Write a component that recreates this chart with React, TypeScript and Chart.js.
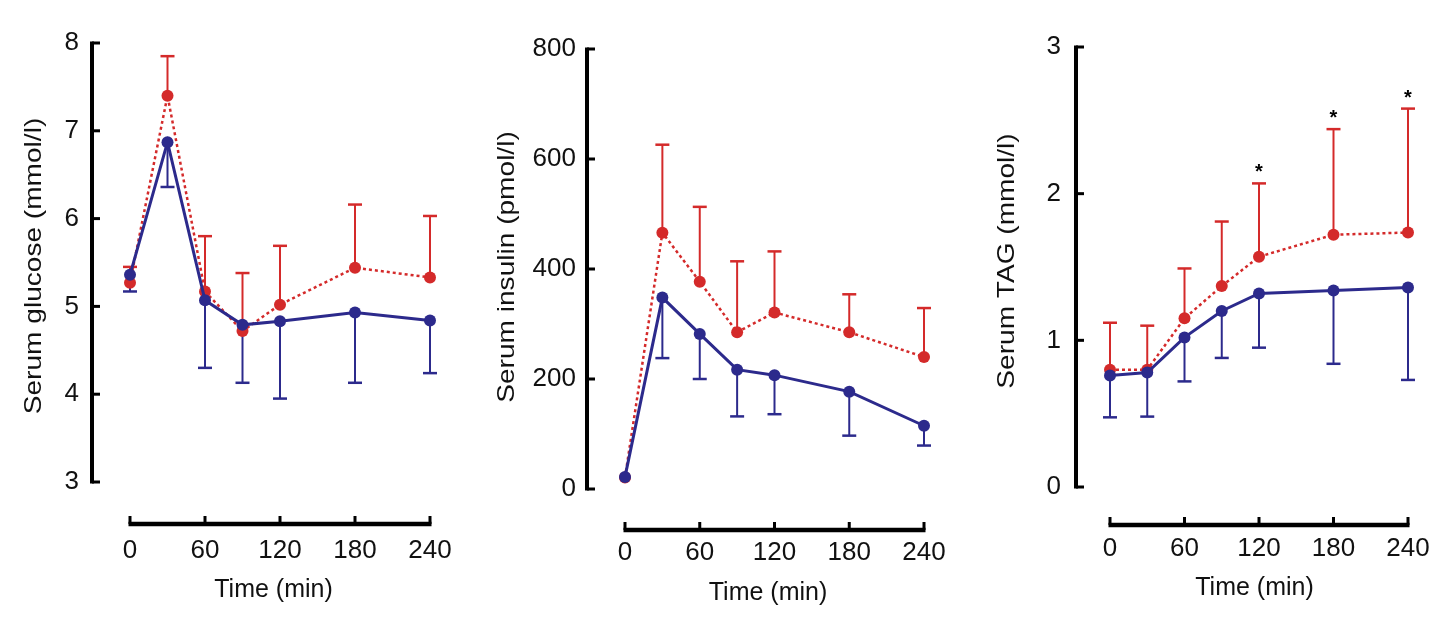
import React, { useEffect, useRef } from 'react';
import { Chart, registerables } from 'chart.js';

Chart.register(...registerables);

// sampling times (min)
const times = [0, 30, 60, 90, 120, 180, 240];
const timeTicks = [0, 60, 120, 180, 240];

// serum glucose (mmol/l)
const glucoseRed = [5.27, 7.4, 5.17, 4.72, 5.02, 5.44, 5.33];
const glucoseRedSd = [0.18, 0.45, 0.63, 0.66, 0.67, 0.72, 0.7];
const glucoseBlue = [5.36, 6.87, 5.07, 4.79, 4.83, 4.93, 4.84];
const glucoseBlueSd = [0.19, 0.51, 0.77, 0.66, 0.88, 0.8, 0.6];

// serum insulin (pmol/l)
const insulinRed = [21, 466, 377, 285, 321, 285, 240];
const insulinRedSd = [0, 160, 136, 129, 111, 69, 89];
const insulinBlue = [22, 348, 282, 217, 207, 177, 115];
const insulinBlueSd = [0, 110, 82, 85, 71, 80, 36];

// serum TAG (mmol/l)
const tagRed = [0.8, 0.8, 1.15, 1.37, 1.57, 1.72, 1.735];
const tagRedSd = [0.32, 0.3, 0.34, 0.44, 0.5, 0.72, 0.845];
const tagBlue = [0.76, 0.78, 1.02, 1.2, 1.32, 1.34, 1.36];
const tagBlueSd = [0.285, 0.3, 0.3, 0.32, 0.37, 0.5, 0.63];
const tagStars = ['', '', '', '', '*', '*', '*'];

const RED = '#d42a2a';
const BLUE = '#2c2a8c';
const FONT = "'Liberation Sans', Arial, sans-serif";
const H = 635;
const TICK_SIZE = 26;
const XTITLE_SIZE = 25;

type Panel = {
  left: number;
  width: number;
  axisX: number;
  top: number;
  bottom: number;
  x0: number;
  x240: number;
  lineGap: number;
  tickLabelY: number;
  titleY: number;
  yTitleX: number;
  yTitleY: number;
  labelPad: number;
  yMin: number;
  yMax: number;
  yStep: number;
  yTitle: string;
  red: number[];
  redSd: number[];
  blue: number[];
  blueSd: number[];
  stars?: string[];
};

const panels: Panel[] = [
  {
    left: 0, width: 470, axisX: 92, top: 43, bottom: 482, x0: 130, x240: 430,
    lineGap: 42, tickLabelY: 551, titleY: 590, yTitleX: 34, yTitleY: 266, labelPad: 13,
    yMin: 3, yMax: 8, yStep: 1, yTitle: 'Serum glucose (mmol/l)',
    red: glucoseRed, redSd: glucoseRedSd, blue: glucoseBlue, blueSd: glucoseBlueSd,
  },
  {
    left: 470, width: 490, axisX: 587, top: 49, bottom: 489, x0: 625, x240: 924,
    lineGap: 41, tickLabelY: 553, titleY: 593, yTitleX: 507, yTitleY: 267, labelPad: 11,
    yMin: 0, yMax: 800, yStep: 200, yTitle: 'Serum insulin (pmol/l)',
    red: insulinRed, redSd: insulinRedSd, blue: insulinBlue, blueSd: insulinBlueSd,
  },
  {
    left: 960, width: 496, axisX: 1076, top: 47, bottom: 487, x0: 1110, x240: 1408,
    lineGap: 38, tickLabelY: 549, titleY: 588, yTitleX: 1007, yTitleY: 261, labelPad: 15,
    yMin: 0, yMax: 3, yStep: 1, yTitle: 'Serum TAG (mmol/l)',
    red: tagRed, redSd: tagRedSd, blue: tagBlue, blueSd: tagBlueSd, stars: tagStars,
  },
];

function decorPlugin(p: Panel) {
  return {
    id: 'decor',
    beforeDatasetsDraw(chart: any) {
      const { ctx, chartArea } = chart;
      const x = chart.scales.x;
      const y = chart.scales.y;
      ctx.save();
      // detached axes
      ctx.strokeStyle = '#000';
      ctx.lineCap = 'butt';
      const ax = chartArea.left;
      const yTop = y.getPixelForValue(p.yMax);
      const yBot = y.getPixelForValue(p.yMin);
      ctx.lineWidth = 4;
      ctx.beginPath();
      ctx.moveTo(ax, yTop - 1.5);
      ctx.lineTo(ax, yBot + 1.5);
      ctx.stroke();
      ctx.lineWidth = 3;
      y.ticks.forEach((t: any) => {
        const py = y.getPixelForValue(t.value);
        ctx.beginPath();
        ctx.moveTo(ax, py);
        ctx.lineTo(ax + 8, py);
        ctx.stroke();
      });
      const ly = chartArea.bottom + p.lineGap;
      ctx.lineWidth = 4.5;
      ctx.beginPath();
      ctx.moveTo(x.getPixelForValue(0) - 1.5, ly);
      ctx.lineTo(x.getPixelForValue(240) + 1.5, ly);
      ctx.stroke();
      ctx.lineWidth = 3;
      timeTicks.forEach((t) => {
        const px = x.getPixelForValue(t);
        ctx.beginPath();
        ctx.moveTo(px, ly);
        ctx.lineTo(px, ly - 8);
        ctx.stroke();
      });
      // error bars: red upward, blue downward
      const bars = [
        { vals: p.red, err: p.redSd, dir: 1, color: RED },
        { vals: p.blue, err: p.blueSd, dir: -1, color: BLUE },
      ];
      bars.forEach((b) => {
        ctx.strokeStyle = b.color;
        times.forEach((t, i) => {
          if (!b.err[i]) return;
          const px = x.getPixelForValue(t);
          const y0 = y.getPixelForValue(b.vals[i]);
          const y1 = y.getPixelForValue(b.vals[i] + b.dir * b.err[i]);
          ctx.lineWidth = 2;
          ctx.beginPath();
          ctx.moveTo(px, y0);
          ctx.lineTo(px, y1);
          ctx.stroke();
          ctx.lineWidth = 2.5;
          ctx.beginPath();
          ctx.moveTo(px - 7, y1);
          ctx.lineTo(px + 7, y1);
          ctx.stroke();
        });
      });
      ctx.restore();
    },
    afterDatasetsDraw(chart: any) {
      const { ctx } = chart;
      const x = chart.scales.x;
      const y = chart.scales.y;
      ctx.save();
      ctx.fillStyle = '#111';
      // y title: the original lettering is a little elongated along the axis
      ctx.font = `24px ${FONT}`;
      ctx.textAlign = 'center';
      ctx.textBaseline = 'middle';
      ctx.save();
      ctx.translate(p.yTitleX - p.left, p.yTitleY);
      ctx.rotate(-Math.PI / 2);
      ctx.scale(1.17, 1);
      ctx.fillText(p.yTitle, 0, 0);
      ctx.restore();
      if (p.stars) {
        ctx.fillStyle = '#000';
        ctx.font = `bold 20px ${FONT}`;
        ctx.textBaseline = 'alphabetic';
        p.stars.forEach((s, i) => {
          if (!s) return;
          const px = x.getPixelForValue(times[i]);
          const py = y.getPixelForValue(p.red[i] + p.redSd[i]);
          ctx.fillText(s, px, py - 5);
        });
      }
      ctx.restore();
    },
  };
}

function PanelChart({ p }: { p: Panel }) {
  const canvasRef = useRef<HTMLCanvasElement>(null);

  useEffect(() => {
    const canvas = canvasRef.current;
    if (!canvas) return;
    const pxPerMin = (p.x240 - p.x0) / 240;
    const chartRight = p.x240 + 25;
    const xMin = (p.axisX - p.x0) / pxPerMin;
    const xMax = (chartRight - p.x0) / pxPerMin;
    const tickFont = { family: FONT, size: TICK_SIZE };
    const chart = new Chart(canvas, {
      type: 'line',
      data: {
        datasets: [
          {
            data: times.map((t, i) => ({ x: t, y: p.blue[i] })),
            borderColor: BLUE,
            backgroundColor: BLUE,
            borderWidth: 3,
            pointRadius: 6,
            pointBorderWidth: 0,
            tension: 0,
            clip: false,
          },
          {
            data: times.map((t, i) => ({ x: t, y: p.red[i] })),
            borderColor: RED,
            backgroundColor: RED,
            borderWidth: 2.5,
            borderDash: [3, 3],
            pointRadius: 6,
            pointBorderWidth: 0,
            tension: 0,
            clip: false,
          },
        ],
      },
      options: {
        animation: false,
        responsive: true,
        maintainAspectRatio: false,
        layout: {
          padding: { left: 0, top: p.top, right: p.left + p.width - chartRight, bottom: 0 },
        },
        plugins: {
          legend: { display: false },
          tooltip: { enabled: false },
        },
        scales: {
          x: {
            type: 'linear',
            min: xMin,
            max: xMax,
            // invisible tick marks push the labels down without widening the padding
            grid: { display: false, drawTicks: true, tickLength: p.tickLabelY - p.bottom - TICK_SIZE * 0.6 },
            border: { display: false },
            afterBuildTicks: (s: any) => {
              s.ticks = timeTicks.map((v) => ({ value: v }));
            },
            afterFit: (s: any) => {
              s.height = H - p.bottom;
            },
            ticks: {
              padding: 0,
              font: tickFont,
              color: '#111',
              maxRotation: 0,
            },
            title: {
              display: true,
              text: 'Time (min)',
              font: { family: FONT, size: XTITLE_SIZE },
              color: '#111',
              padding: { top: 0, bottom: H - p.titleY - XTITLE_SIZE * 0.6 },
            },
          },
          y: {
            min: p.yMin,
            max: p.yMax,
            grid: { display: false, drawTicks: false },
            border: { display: false },
            afterFit: (s: any) => {
              s.width = p.axisX - p.left;
            },
            ticks: {
              stepSize: p.yStep,
              padding: p.labelPad,
              font: tickFont,
              color: '#111',
            },
            title: { display: false },
          },
        },
      },
      plugins: [decorPlugin(p)],
    } as any);
    return () => {
      chart.destroy();
    };
  }, [p]);

  return (
    <div style={{ position: 'absolute', left: p.left, top: 0, width: p.width, height: H }}>
      <canvas ref={canvasRef} />
    </div>
  );
}

export default function App() {
  return (
    <div style={{ position: 'absolute', left: 0, top: 0, width: 1456, height: H, background: '#fff' }}>
      {panels.map((p) => (
        <PanelChart key={p.yTitle} p={p} />
      ))}
    </div>
  );
}
